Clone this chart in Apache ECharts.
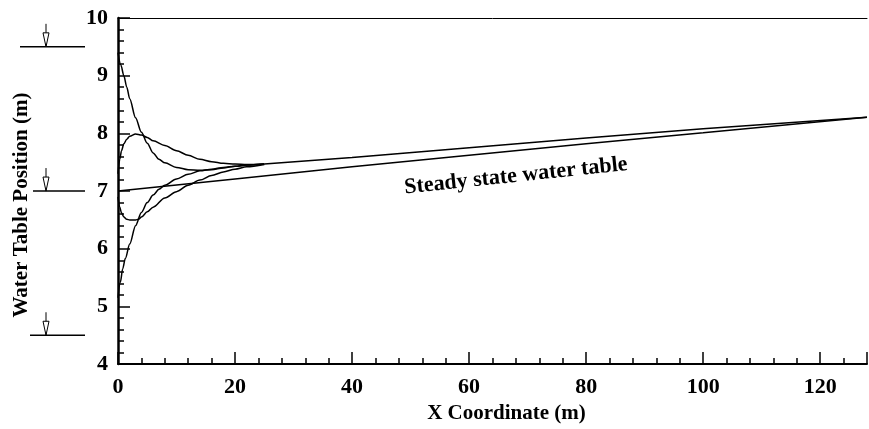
<!DOCTYPE html>
<html>
<head>
<meta charset="utf-8">
<script src="https://cdn.jsdelivr.net/npm/echarts@6/dist/echarts.min.js"></script>
<style>
html,body{margin:0;padding:0;background:#fff;}
#c{width:869px;height:429px;}
</style>
</head>
<body>
<div id="c"></div>
<script>
// ---- data ----
var curveA = [[0,9.40],[0.5,9.18],[1,9.00],[1.5,8.80],[2,8.60],[3,8.27],[4,8.02],[5,7.83],[6,7.66],[7,7.55],[8,7.49],[10,7.41],[12,7.37],[14,7.36],[16,7.37],[18,7.40],[20,7.43],[22,7.45],[25,7.47]];
var curveB = [[0,7.30],[0.3,7.55],[0.6,7.70],[1,7.82],[1.5,7.90],[2,7.95],[3,7.99],[4,7.97],[5,7.93],[6,7.87],[8,7.79],[10,7.70],[12,7.62],[14,7.55],[16,7.51],[18,7.48],[20,7.47],[22,7.46],[25,7.47]];
var curveC = [[0,6.90],[0.3,6.72],[0.6,6.62],[1,6.55],[1.5,6.51],[2,6.50],[3,6.50],[3.5,6.51],[4,6.55],[5,6.64],[6,6.72],[8,6.88],[10,6.99],[12,7.10],[14,7.19],[16,7.27],[18,7.33],[20,7.38],[22,7.42],[25,7.46]];
var curveD = [[0,5.15],[0.4,5.42],[0.8,5.65],[1.25,5.83],[2,6.08],[3,6.40],[4,6.63],[5,6.80],[6,6.93],[7,7.03],[8,7.10],[10,7.21],[12,7.29],[14,7.35],[16,7.38],[18,7.41],[20,7.43],[22,7.45],[25,7.47]];
var transientTail = [[25,7.47],[40,7.58],[60,7.75],[80,7.92],[100,8.08],[128,8.28]];
var steadyState = [[0,7.00],[20,7.21],[40,7.42],[60,7.62],[80,7.82],[100,8.01],[128,8.28]];
var waterLevels = [9.5, 7.0, 4.5];
var annotationText = 'Steady state water table';
var annotationAt = [68, 7.26];
var xName = 'X Coordinate (m)';
var yName = 'Water Table Position (m)';

// ---- chart ----
var FONT = '"Liberation Serif", "DejaVu Serif", serif';
var chart = echarts.init(document.getElementById('c'));
function lineSeries(d, smooth){
  return {type:'line', data:d, showSymbol:false, smooth:smooth, smoothMonotone:'x',
    lineStyle:{color:'#000', width:1.5}, silent:true, animation:false};
}
chart.setOption({
  animation:false,
  backgroundColor:'#fff',
  grid:{left:118, right:2, top:18, bottom:60.5},
  xAxis:[{
    type:'value', min:0, max:128, interval:20,
    name:xName, nameLocation:'middle', nameGap:30,
    nameTextStyle:{fontFamily:FONT, fontWeight:'bold', fontSize:21, color:'#000', padding:[0,0,0,28]},
    axisLine:{lineStyle:{color:'#000', width:2}},
    axisTick:{inside:true, length:12, lineStyle:{color:'#000', width:1.5}},
    minorTick:{show:true, splitNumber:5, length:6, lineStyle:{color:'#000', width:1.5}},
    axisLabel:{fontFamily:FONT, fontWeight:'bold', fontSize:22, color:'#000', margin:12, showMaxLabel:false},
    splitLine:{show:false}
  },{
    type:'value', position:'top', min:0, max:128,
    axisLine:{show:true, lineStyle:{color:'#000', width:1}},
    axisTick:{show:false}, axisLabel:{show:false}, splitLine:{show:false}
  }],
  yAxis:{
    type:'value', min:4, max:10, interval:1,
    name:yName, nameLocation:'middle', nameGap:86, nameRotate:90,
    nameTextStyle:{fontFamily:FONT, fontWeight:'bold', fontSize:21, color:'#000', padding:[0,28,0,0]},
    axisLine:{lineStyle:{color:'#000', width:2.5}},
    axisTick:{inside:true, length:12, lineStyle:{color:'#000', width:1.5}},
    minorTick:{show:true, splitNumber:5, length:6, lineStyle:{color:'#000', width:1.5}},
    axisLabel:{fontFamily:FONT, fontWeight:'bold', fontSize:22, color:'#000', margin:10},
    splitLine:{show:false}
  },
  series:[lineSeries(curveA,0.3), lineSeries(curveB,0.3), lineSeries(curveC,0.3), lineSeries(curveD,0.3), lineSeries(transientTail,false), lineSeries(steadyState,false)]
});

// water level markers and annotation (positions derived from axis scale)
var markerLeft = [20, 33, 30];
var markerRight = 85, arrowX = 46;
var g = [];
waterLevels.forEach(function(lv, i){
  var py = chart.convertToPixel({yAxisIndex:0}, lv);
  g.push({type:'line', shape:{x1:markerLeft[i], y1:py, x2:markerRight, y2:py}, style:{stroke:'#000', lineWidth:1.5}, silent:true});
  g.push({type:'line', shape:{x1:arrowX, y1:py-23, x2:arrowX, y2:py}, style:{stroke:'#000', lineWidth:1}, silent:true});
  g.push({type:'polygon', shape:{points:[[arrowX-3,py-14],[arrowX+3,py-14],[arrowX,py]]}, style:{fill:'#fff', stroke:'#000', lineWidth:1}, silent:true});
});
var ap = chart.convertToPixel({gridIndex:0}, annotationAt);
g.push({type:'text', x:ap[0], y:ap[1], rotation:0.105,
  style:{text:annotationText, fontFamily:FONT, fontWeight:'bold', fontSize:22, fill:'#000', align:'center', verticalAlign:'middle'}, silent:true});
chart.setOption({graphic:g});
</script>
</body>
</html>
